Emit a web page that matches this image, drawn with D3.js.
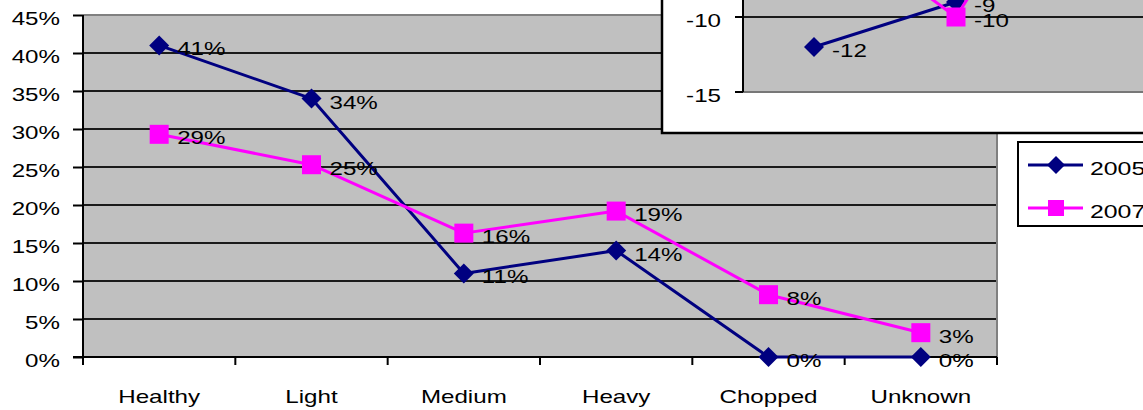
<!DOCTYPE html>
<html>
<head>
<meta charset="utf-8">
<script src="https://cdn.jsdelivr.net/npm/d3@7"></script>
<style>
  html, body { margin: 0; padding: 0; background: #fff; }
  svg { display: block; }
  text { font-family: "Liberation Sans", Arial, sans-serif; fill: #000; }
</style>
</head>
<body>
<script>
// ---- data ----
const categories = ["Healthy", "Light", "Medium", "Heavy", "Chopped", "Unknown"];
const values2005 = [0.41, 0.34, 0.11, 0.14, 0.00, 0.00];
const values2007 = [0.293, 0.253, 0.163, 0.192, 0.082, 0.032];
const yTicks = [0, 0.05, 0.10, 0.15, 0.20, 0.25, 0.30, 0.35, 0.40, 0.45];
const seriesNames = ["2005", "2007"];

// partially visible overlapping chart (top right)
const insetCategories = ["c1", "c2", "c3"];
const inset2005 = [-12, -9, 5];
const inset2007 = [-3, -10, 5];
const insetTicks = [-15, -10];

// ---- layout ----
const W = 1143, H = 410;
const SX = 1.38;          // horizontal text stretch of the original picture
const FS = 17.5;
const plot = { left: 83, right: 997, top: 15, bottom: 357 };
const colors = { s2005: "#000080", s2007: "#FF00FF", plotBg: "#C0C0C0" };

const svg = d3.select("body").append("svg").attr("width", W).attr("height", H);

function txt(g, x, y, s, anchor, size) {
  return g.append("text")
    .attr("transform", `translate(${x},${y}) scale(${SX},1)`)
    .attr("text-anchor", anchor || "start")
    .style("font-size", (size || FS) + "px")
    .text(s);
}

// ---- main chart ----
const x = d3.scaleBand().domain(categories).range([plot.left, plot.right]).padding(0);
const y = d3.scaleLinear().domain([0, 0.45]).range([plot.bottom, plot.top]);
const cx = d => x(d) + x.bandwidth() / 2;

const main = svg.append("g");
main.append("rect")
  .attr("x", plot.left).attr("y", plot.top)
  .attr("width", plot.right - plot.left).attr("height", plot.bottom - plot.top)
  .attr("fill", colors.plotBg);

// gridlines
main.selectAll("line.grid").data(yTicks.filter(t => t > 0 && t < 0.45)).enter()
  .append("line")
  .attr("x1", plot.left).attr("x2", plot.right)
  .attr("y1", d => y(d)).attr("y2", d => y(d))
  .attr("stroke", "#1a1a1a").attr("stroke-width", 2);

// plot border (top / right)
main.append("path")
  .attr("d", `M${plot.left},${plot.top}H${plot.right}V${plot.bottom}`)
  .attr("fill", "none").attr("stroke", "#808080").attr("stroke-width", 2);

// y axis
const yAxisG = main.append("g").attr("transform", `translate(${plot.left},0)`)
  .call(d3.axisLeft(y).tickValues(yTicks).tickSize(10).tickFormat(""));
yAxisG.select(".domain").remove();
yAxisG.selectAll(".tick line").attr("stroke", "#000").attr("stroke-width", 2);
main.append("line")
  .attr("x1", plot.left).attr("x2", plot.left)
  .attr("y1", plot.top).attr("y2", plot.bottom + 8)
  .attr("stroke", "#000").attr("stroke-width", 2);
yTicks.forEach(t => txt(main, plot.left - 23, y(t) + 9.5, d3.format(".0%")(t), "end"));

// x axis
main.append("line")
  .attr("x1", plot.left - 10).attr("x2", plot.right)
  .attr("y1", plot.bottom).attr("y2", plot.bottom)
  .attr("stroke", "#000").attr("stroke-width", 2);
const tickXs = categories.map(c => x(c)).concat([plot.right]);
main.selectAll("line.xt").data(tickXs).enter().append("line")
  .attr("x1", d => d).attr("x2", d => d)
  .attr("y1", plot.bottom).attr("y2", plot.bottom + 8)
  .attr("stroke", "#000").attr("stroke-width", 2);
categories.forEach(c => txt(main, cx(c), 403, c, "middle"));

const diamond = r => `M0,${-r}L${r},0L0,${r}L${-r},0Z`;

function drawSeries(g, xs, ys, vals, cats, color, shape, fmt) {
  const line = d3.line().x((d, i) => xs(cats[i])).y(d => ys(d));
  g.append("path").datum(vals).attr("d", line)
    .attr("fill", "none").attr("stroke", color).attr("stroke-width", 3)
    .attr("stroke-linejoin", "round");
  vals.forEach((v, i) => {
    const px = xs(cats[i]), py = ys(v);
    if (shape === "diamond") {
      g.append("path").attr("d", diamond(10))
        .attr("transform", `translate(${px},${py})`).attr("fill", color);
    } else {
      g.append("rect").attr("x", px - 9.5).attr("y", py - 9.5)
        .attr("width", 19).attr("height", 19).attr("fill", color);
    }
  });
  vals.forEach((v, i) => {
    const py = ys(v);
    if (py > -20) txt(g, xs(cats[i]) + 18, py + 10, fmt(v), "start");
  });
}

drawSeries(main, cx, y, values2005, categories, colors.s2005, "diamond", d3.format(".0%"));
drawSeries(main, cx, y, values2007, categories, colors.s2007, "square", d3.format(".0%"));

// ---- overlapping inset chart ----
const inset = { boxLeft: 662, boxBottom: 133, left: 743, bottom: 92 };
const ix = d3.scaleBand().domain(insetCategories).range([inset.left, inset.left + 426]).padding(0);
const icx = d => ix(d) + ix.bandwidth() / 2;
const iy = d3.scaleLinear().domain([-15, -10]).range([inset.bottom, 17]);

const ig = svg.append("g");
ig.append("rect")
  .attr("x", inset.boxLeft).attr("y", -10)
  .attr("width", W + 20 - inset.boxLeft).attr("height", inset.boxBottom + 10)
  .attr("fill", "#fff").attr("stroke", "#000").attr("stroke-width", 2.5);
ig.append("rect")
  .attr("x", inset.left).attr("y", -10)
  .attr("width", W + 20 - inset.left).attr("height", inset.bottom + 10)
  .attr("fill", colors.plotBg);
svg.append("clipPath").attr("id", "insetClip").append("rect")
  .attr("x", inset.left).attr("y", -10)
  .attr("width", W + 20 - inset.left).attr("height", inset.bottom + 10);

ig.selectAll("line.igrid").data(insetTicks.filter(t => t > -15)).enter().append("line")
  .attr("x1", inset.left).attr("x2", W + 10)
  .attr("y1", d => iy(d)).attr("y2", d => iy(d))
  .attr("stroke", "#1a1a1a").attr("stroke-width", 2);
ig.append("line")
  .attr("x1", inset.left).attr("x2", W + 10)
  .attr("y1", inset.bottom).attr("y2", inset.bottom)
  .attr("stroke", "#777").attr("stroke-width", 2);
ig.append("line")
  .attr("x1", inset.left).attr("x2", inset.left)
  .attr("y1", -10).attr("y2", inset.bottom)
  .attr("stroke", "#000").attr("stroke-width", 2);
insetTicks.forEach(t => {
  ig.append("line").attr("x1", inset.left - 8).attr("x2", inset.left)
    .attr("y1", iy(t)).attr("y2", iy(t)).attr("stroke", "#000").attr("stroke-width", 2);
  txt(ig, inset.left - 22, iy(t) + 9.5, String(t), "end");
});

const igData = ig.append("g").attr("clip-path", "url(#insetClip)");
drawSeries(igData, icx, iy, inset2005, insetCategories, colors.s2005, "diamond", v => String(v));
drawSeries(igData, icx, iy, inset2007, insetCategories, colors.s2007, "square", v => String(v));

// ---- legend ----
const lg = svg.append("g");
lg.append("rect").attr("x", 1018).attr("y", 142).attr("width", 200).attr("height", 84)
  .attr("fill", "#fff").attr("stroke", "#000").attr("stroke-width", 2);
const legendRows = [
  { name: seriesNames[0], color: colors.s2005, shape: "diamond", y: 165 },
  { name: seriesNames[1], color: colors.s2007, shape: "square", y: 208 }
];
legendRows.forEach(r => {
  lg.append("line").attr("x1", 1028).attr("x2", 1083).attr("y1", r.y).attr("y2", r.y)
    .attr("stroke", r.color).attr("stroke-width", 3);
  if (r.shape === "diamond") {
    lg.append("path").attr("d", diamond(9)).attr("transform", `translate(1056,${r.y})`).attr("fill", r.color);
  } else {
    lg.append("rect").attr("x", 1056 - 8).attr("y", r.y - 8).attr("width", 16).attr("height", 16).attr("fill", r.color);
  }
  txt(lg, 1090, r.y + 10, r.name, "start", 18);
});
</script>
</body>
</html>
